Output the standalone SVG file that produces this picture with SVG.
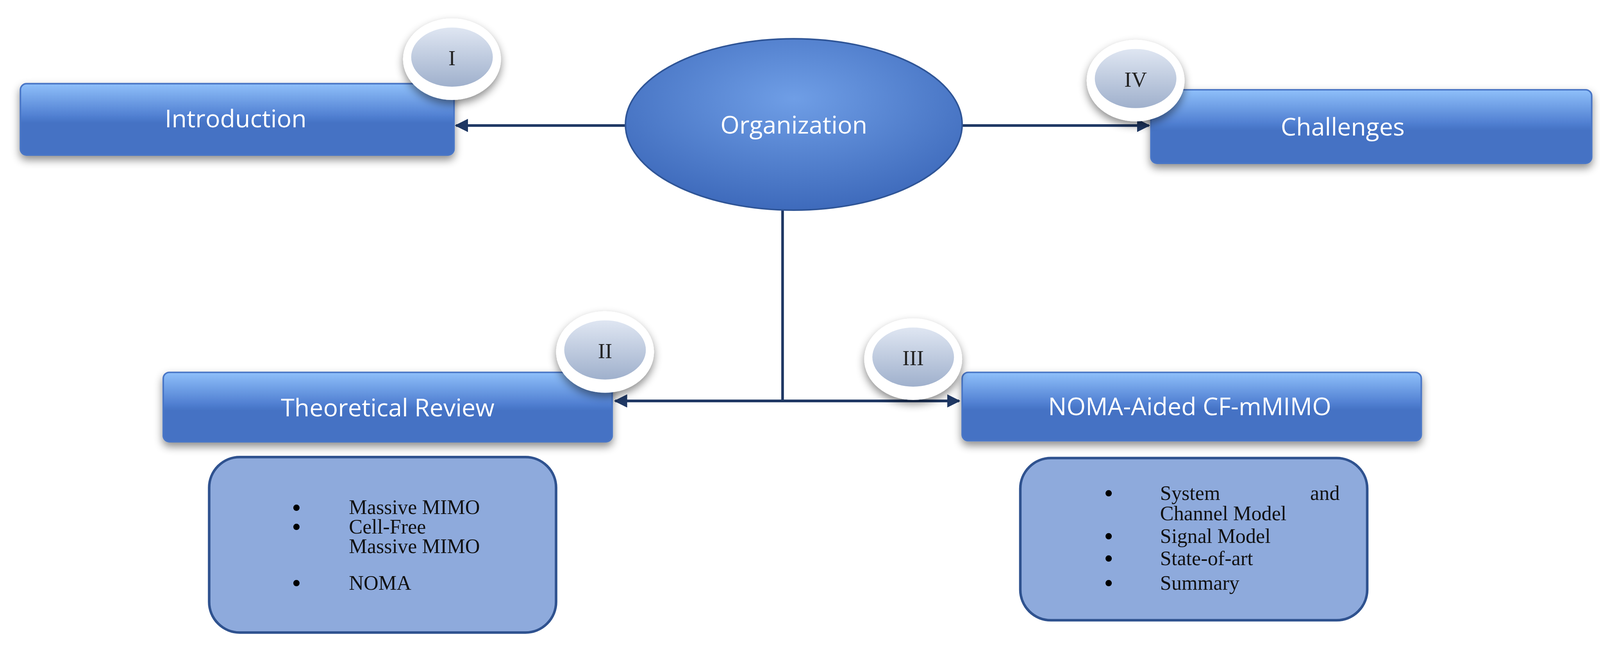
<svg xmlns="http://www.w3.org/2000/svg" width="4157" height="1677" viewBox="0 0 4157 1677">
<style>
.lbl{font-family:"Open Sans","DejaVu Sans",sans-serif;font-size:24px;fill:#fff;text-anchor:middle}
.num{font-family:"Liberation Serif",serif;font-size:21px;fill:#222;text-anchor:middle}
.lst{font-family:"Liberation Serif",serif;font-size:20px;fill:#111}
.bul{font-family:"Liberation Serif",serif;font-size:26px;fill:#000}
.box{fill:url(#gb);stroke:#4a76c6;stroke-width:1.5;filter:url(#sh)}
.list{fill:#8eaadc;stroke:#2f528f;stroke-width:2.5}
.con{stroke:#1f3864;stroke-width:2.6;fill:none}
</style>
<defs>
<linearGradient id="gb" x1="0" y1="0" x2="0" y2="1">
<stop offset="0" stop-color="#8fc0fa"/><stop offset="0.45" stop-color="#5180d2"/><stop offset="0.55" stop-color="#4472c4"/><stop offset="1" stop-color="#4472c4"/>
</linearGradient>
<radialGradient id="ge" cx="0.5" cy="0.35" r="0.7">
<stop offset="0" stop-color="#6f9ee6"/><stop offset="1" stop-color="#3a66b8"/>
</radialGradient>
<linearGradient id="gn" x1="0" y1="0" x2="0" y2="1">
<stop offset="0" stop-color="#dfe6f2"/><stop offset="1" stop-color="#9fb0cc"/>
</linearGradient>
<filter id="sh" x="-10%" y="-30%" width="120%" height="170%">
<feDropShadow dx="0" dy="4" stdDeviation="4" flood-color="#000" flood-opacity="0.45"/>
</filter>
<marker id="ah" viewBox="0 0 10 10" refX="9" refY="5" markerWidth="5" markerHeight="5" orient="auto-start-reverse">
<path d="M0,0 L10,5 L0,10 z" fill="#1f3864"/>
</marker>
</defs>
<rect width="4157" height="1677" fill="#fff"/>
<g transform="scale(2.612)">
<g id="connectors">
<line class="con" x1="613" y1="123" x2="447" y2="123" marker-end="url(#ah)"/>
<line class="con" x1="943" y1="123" x2="1126" y2="123" marker-end="url(#ah)"/>
<line class="con" x1="767" y1="203" x2="767" y2="393"/>
<line class="con" x1="603" y1="393" x2="940" y2="393" marker-start="url(#ah)" marker-end="url(#ah)"/>
</g>
<g id="organization">
<ellipse cx="778" cy="122" rx="165" ry="84" fill="url(#ge)" stroke="#2f5597" stroke-width="1.5"/>
<text class="lbl" x="778" y="131">Organization</text>
</g>
<g id="introduction">
<rect class="box" x="20" y="82" width="425" height="70" rx="6"/>
<text class="lbl" x="231" y="125">Introduction</text>
<ellipse cx="443" cy="58" rx="48" ry="40" fill="#fff" filter="url(#sh)"/>
<ellipse cx="443" cy="56" rx="40" ry="29" fill="url(#gn)"/>
<text class="num" x="443" y="64">I</text>
</g>
<g id="challenges">
<rect class="box" x="1128" y="88" width="432" height="72" rx="6"/>
<text class="lbl" x="1316" y="133">Challenges</text>
<ellipse cx="1113" cy="79" rx="48" ry="40" fill="#fff" filter="url(#sh)"/>
<ellipse cx="1113" cy="77" rx="40" ry="29" fill="url(#gn)"/>
<text class="num" x="1113" y="85">IV</text>
</g>
<g id="theoretical">
<rect class="box" x="160" y="365" width="440" height="68" rx="6"/>
<text class="lbl" x="380" y="408">Theoretical Review</text>
<ellipse cx="593" cy="345" rx="48" ry="40" fill="#fff" filter="url(#sh)"/>
<ellipse cx="593" cy="343" rx="40" ry="29" fill="url(#gn)"/>
<text class="num" x="593" y="351">II</text>
</g>
<g id="noma">
<rect class="box" x="943" y="365" width="450" height="67" rx="6"/>
<text class="lbl" x="1166" y="407">NOMA-Aided CF-mMIMO</text>
<ellipse cx="895" cy="352" rx="48" ry="40" fill="#fff" filter="url(#sh)"/>
<ellipse cx="895" cy="350" rx="40" ry="29" fill="url(#gn)"/>
<text class="num" x="895" y="358">III</text>
</g>
<g id="theoretical-list">
<rect class="list" x="205" y="448" width="340" height="172" rx="30"/>
<text class="bul" x="286" y="506">•</text><text class="lst" x="342" y="504">Massive MIMO</text>
<text class="bul" x="286" y="525">•</text><text class="lst" x="342" y="523">Cell-Free</text>
<text class="lst" x="342" y="542">Massive MIMO</text>
<text class="bul" x="286" y="580">•</text><text class="lst" x="342" y="578">NOMA</text>
</g>
<g id="noma-list">
<rect class="list" x="1000" y="449" width="340" height="159" rx="30"/>
<text class="bul" x="1082" y="492">•</text><text class="lst" x="1137" y="490">System</text><text class="lst" x="1313" y="490" text-anchor="end">and</text>
<text class="lst" x="1137" y="510">Channel Model</text>
<text class="bul" x="1082" y="534">•</text><text class="lst" x="1137" y="532">Signal Model</text>
<text class="bul" x="1082" y="556">•</text><text class="lst" x="1137" y="554">State-of-art</text>
<text class="bul" x="1082" y="580">•</text><text class="lst" x="1137" y="578">Summary</text>
</g>
</g>
</svg>
